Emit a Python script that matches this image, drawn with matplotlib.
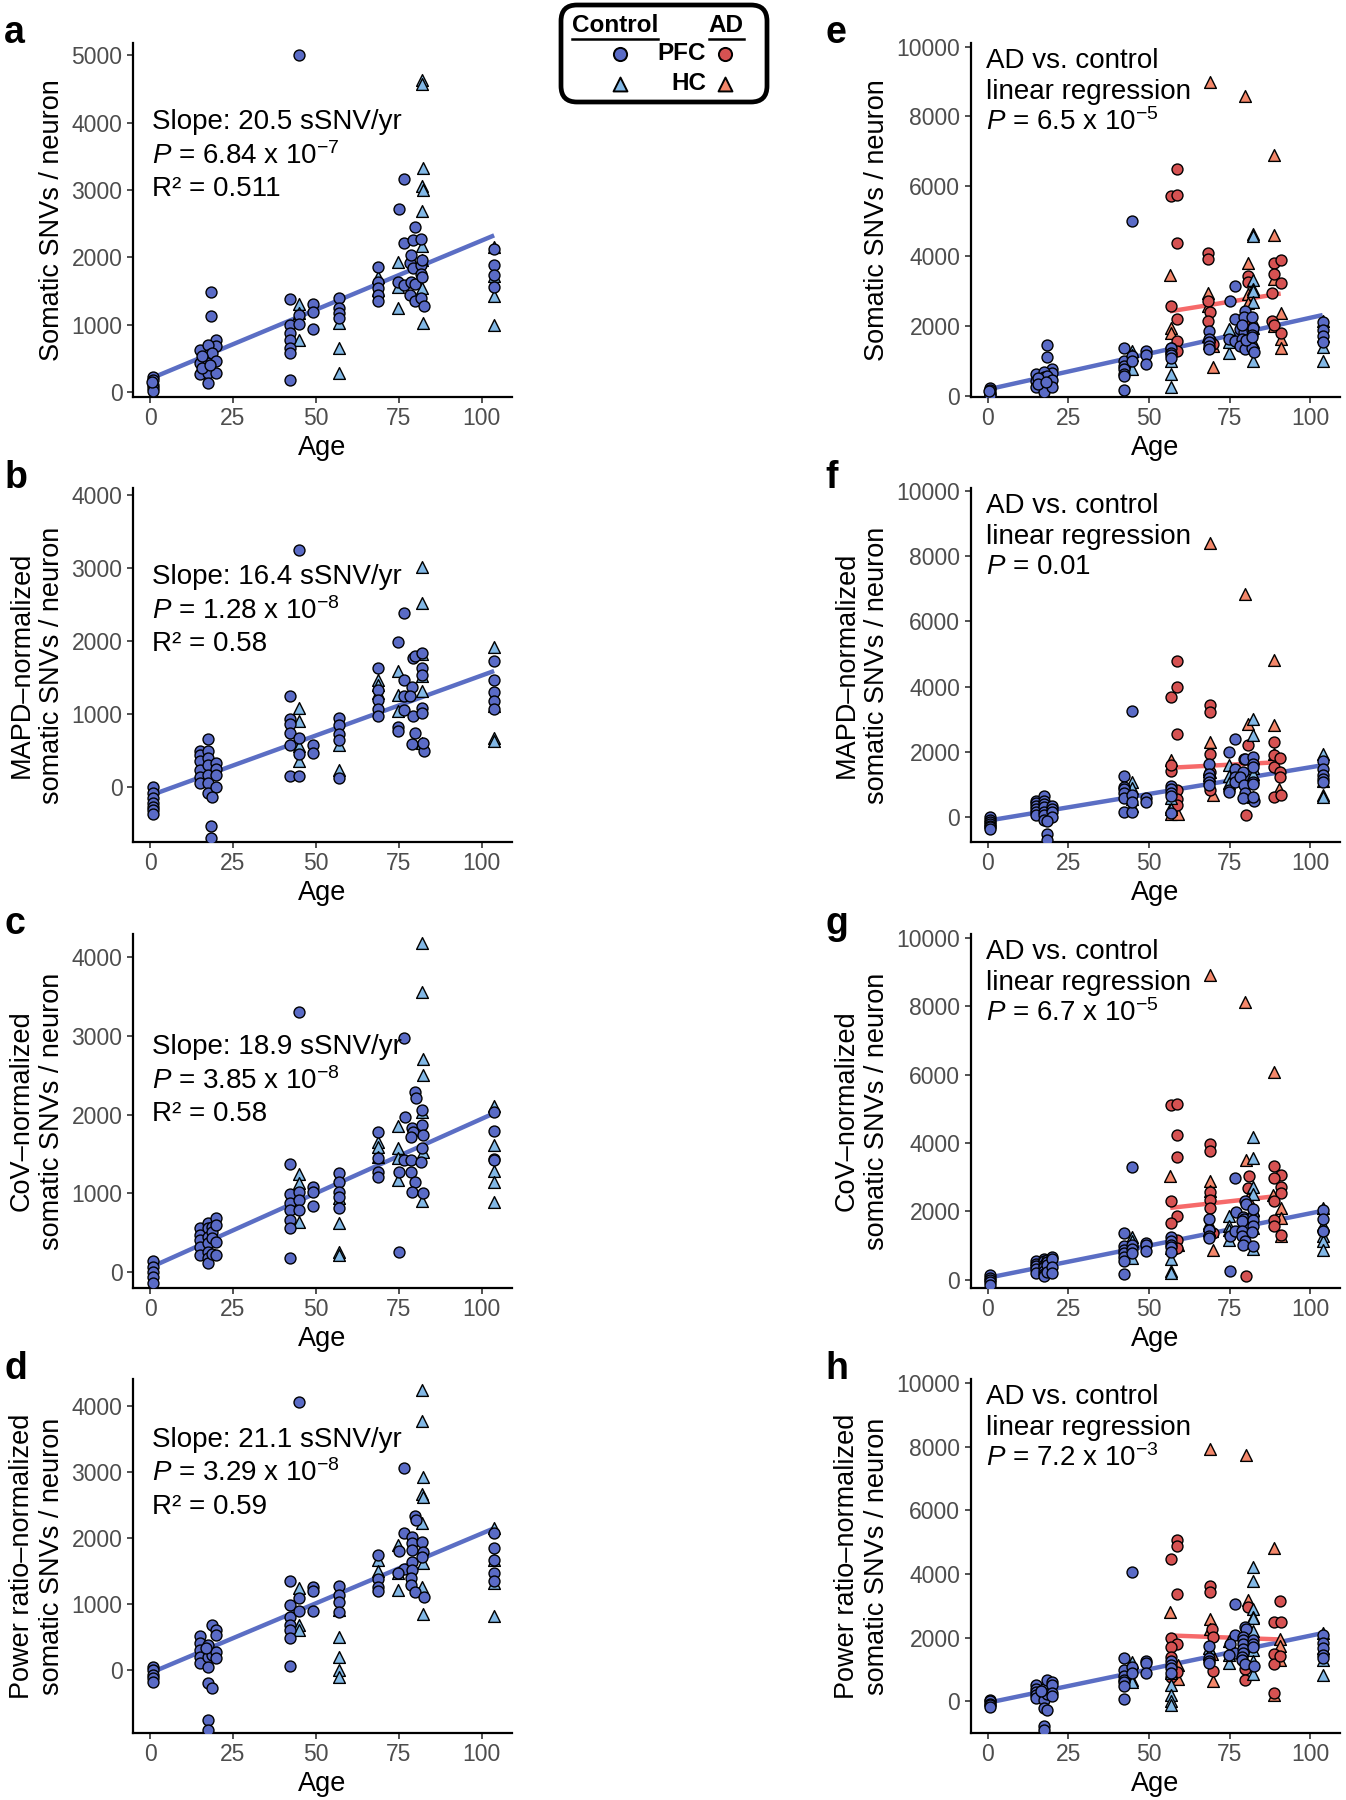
import numpy as np
import matplotlib.pyplot as plt
from matplotlib.patches import FancyBboxPatch

plt.rcParams["font.family"] = ["Liberation Sans", "DejaVu Sans"]
plt.rcParams["mathtext.fontset"] = "custom"
plt.rcParams["mathtext.rm"] = "Liberation Sans"
plt.rcParams["mathtext.it"] = "Liberation Sans:italic"

# ---- data: (age, sSNVs per neuron) ----
# raw somatic SNVs
ctrl_pfc_raw = [
    (0.7, 230), (0.7, 180), (0.7, 110), (0.7, 60), (0.7, 10), (0.5, 150),
    (18.3, 1482), (18.3, 1131), (20, 776), (20, 677), (15, 627), (15, 430), (15, 272),
    (17.5, 700), (17.5, 553), (17.5, 430), (17.5, 282), (17.5, 133), (18.5, 578),
    (20, 455), (20, 282), (15.5, 528), (15.5, 360), (18, 400),
    (42.2, 1383), (42.2, 998), (42.2, 874), (42.2, 776), (42.2, 652), (42.2, 578), (42.2, 173),
    (44.9, 1146), (44.9, 1013), (44.9, 5009), (49, 1309), (49, 1195), (49, 934),
    (56.9, 1393), (56.9, 1245), (56.9, 1171), (56.9, 1097),
    (68.7, 1862), (68.7, 1640), (68.7, 1541), (68.7, 1442), (68.7, 1344),
    (76.7, 3162), (75.2, 2712), (76.7, 2208), (74.9, 1640), (76.7, 1590),
    (79.8, 2445), (79.3, 2258), (81.8, 2272), (78.3, 1912), (79.3, 1838), (81.8, 1887),
    (82.1, 1961), (81.8, 1754), (78.8, 1640), (78.3, 1442), (79.8, 1344), (81.8, 1393),
    (82.5, 1270), (78.8, 2035), (80, 1600), (82, 1700),
    (103.8, 2119), (103.8, 1887), (103.8, 1739), (103.8, 1566),
]
ctrl_hc_raw = [
    (44.9, 1310), (44.9, 776), (44.9, 1180),
    (56.9, 1022), (56.9, 652), (56.9, 282),
    (68.7, 1714), (68.7, 1516),
    (74.9, 1927), (74.9, 1245), (74.9, 1566),
    (82.1, 4629), (82.1, 4570), (82.3, 3320), (82.1, 3060), (82.3, 3000), (82.1, 2690),
    (82.1, 2160), (82.1, 1960), (82.1, 1550), (82.3, 1020),
    (103.8, 2149), (103.8, 1724), (103.8, 1418), (103.8, 998),
]
ad_pfc_raw = [
    (58.8, 6512), (56.7, 5722), (58.8, 5770), (58.6, 4373), (56.7, 2586), (58.8, 2205),
    (58.8, 1587), (56.7, 1397), (56.7, 1255), (58.8, 1300),
    (68.3, 4107), (68.3, 3935), (68.3, 2728), (68.8, 2414), (68.3, 2158), (68.8, 1600), (69.8, 1500),
    (80.6, 3441), (80.6, 3270), (80.6, 2100), (81, 1900),
    (88.8, 3821), (90.8, 3888), (88.8, 3489), (90.8, 3251), (88.2, 2966), (88.2, 2158),
    (90.8, 1825), (88.8, 2050),
]
ad_hc_raw = [
    (68.8, 9000), (79.6, 8575), (88.8, 6911), (88.8, 4601), (80.6, 3821), (56.5, 3460),
    (56.7, 1968), (56.7, 1825), (68.3, 2966), (68.3, 2586), (68.3, 1730), (69.8, 1445),
    (69.8, 827), (80.6, 2918), (80.6, 2680), (90.8, 2395), (90.8, 1635), (90.8, 1397),
    (88.8, 3346), (79.6, 1900), (88.8, 2000),
]

# MAPD-normalized
ctrl_pfc_mapd = [
    (0.7, 9), (0.7, -82), (0.7, -151), (0.7, -219), (0.7, -265), (0.7, -311), (0.7, -370),
    (15, 489), (15, 443), (15, 352), (15, 238), (15, 146), (15, 55), (17.5, 658), (17.5, 489),
    (17.5, 398), (17.5, 306), (17.5, 169), (17.5, 55), (17.5, -82), (18.3, -530), (18.3, -690),
    (20, 329), (20, 247), (20, 169), (20, 9), (18.5, -137),
    (42.2, 1252), (42.2, 932), (42.2, 868), (42.2, 740), (42.2, 580), (42.2, 155),
    (44.9, 155), (44.9, 672), (44.9, 457), (44.9, 3250),
    (49, 580), (49, 466),
    (56.9, 946), (56.9, 855), (56.9, 731), (56.9, 649), (56.9, 123),
    (68.7, 1632), (68.7, 1335), (68.7, 1198), (68.7, 1070), (68.7, 969),
    (76.7, 2386), (74.9, 1984), (76.7, 1472), (74.9, 823), (74.9, 763), (76.7, 1243), (76.7, 1060),
    (79.3, 1769), (79.8, 1792), (82.1, 1838), (82.1, 1632), (82.1, 1540), (79.1, 1371),
    (78.3, 1243), (79.3, 969), (82.1, 1083), (82.1, 1015), (79.8, 740), (79.1, 594),
    (82.5, 489), (82.3, 603),
    (103.8, 1723), (103.8, 1472), (103.8, 1298), (103.8, 1175), (103.8, 1070),
]
ctrl_hc_mapd = [
    (44.9, 1083), (44.9, 900), (44.9, 558), (44.9, 352),
    (56.9, 580), (56.9, 238),
    (68.7, 1472), (68.7, 1403), (68.7, 1289),
    (74.9, 1586), (74.9, 1266), (74.9, 1038),
    (82.1, 3017), (82.1, 2514), (82.1, 1815), (82.1, 1518), (82.1, 1312), (82.1, 603),
    (103.8, 1920), (103.8, 1106), (103.8, 672), (103.8, 626),
]
ad_pfc_mapd = [
    (58.8, 4785), (58.8, 3988), (56.8, 3681), (58.8, 2556), (56.8, 1401), (56.8, 1585),
    (58.8, 818), (58.8, 562), (58.8, 358),
    (68.9, 3425), (68.9, 3221), (68.9, 1943), (68.9, 1380), (68.9, 818),
    (80.6, 2198), (80.1, 72),
    (88.8, 2301), (88.8, 1892), (88.8, 1534), (90.7, 1810), (90.7, 1380), (90.7, 1227),
    (88.8, 614), (90.9, 665),
]
ad_hc_mapd = [
    (68.9, 8415), (79.9, 6851), (88.8, 4826), (88.6, 2832), (56.8, 1738), (56.8, 102),
    (59.1, 102), (56.8, 307), (68.9, 2301), (68.9, 1380), (69.9, 665), (80.6, 2863),
    (88.8, 1943), (90.4, 869),
]

# CoV-normalized
ctrl_pfc_cov = [
    (0.7, 136), (0.7, 64), (0.7, 0), (0.7, -64), (0.7, -148),
    (15, 551), (15, 467), (15, 403), (15, 318), (15, 212), (17.5, 615), (17.5, 551),
    (17.5, 445), (17.5, 361), (17.5, 255), (17.5, 170), (17.5, 106), (18.5, 573), (18.5, 509),
    (18.5, 424), (18.5, 221), (20, 679), (20, 594), (20, 382), (20, 212),
    (42.2, 1366), (42.2, 984), (42.2, 870), (42.2, 785), (42.2, 658), (42.2, 551), (42.2, 170),
    (44.9, 3309), (44.9, 1010), (44.9, 912), (44.9, 785),
    (49, 1082), (49, 1018), (49, 840),
    (56.9, 1251), (56.9, 1137), (56.9, 1018), (56.9, 955), (56.9, 806),
    (68.7, 1782), (68.7, 1442), (68.7, 1273), (68.7, 1209),
    (76.7, 2969), (77, 1973), (75.2, 1273), (75.2, 246), (76.7, 1421),
    (79.8, 2291), (80.1, 2206), (79.1, 1824), (79.3, 1773), (78.8, 1718), (82.1, 1867),
    (82.3, 1739), (82.1, 1570), (78.8, 1421), (78.8, 1273), (79.8, 1145), (79.1, 1018),
    (82.3, 997), (81.8, 1400), (82.1, 2057),
    (103.8, 2028), (103.8, 1790), (103.8, 1434), (103.8, 1421),
]
ctrl_hc_cov = [
    (44.9, 1239), (44.9, 1124), (44.9, 636),
    (56.9, 933), (56.9, 615), (56.9, 255), (56.9, 212),
    (68.7, 1654), (68.7, 1591), (68.7, 1464),
    (74.9, 1854), (74.9, 1570), (74.9, 1442), (74.9, 1167),
    (82.1, 4178), (82.1, 3555), (82.3, 2706), (82.3, 2503), (82.1, 2036), (82.3, 1527), (82.1, 899),
    (103.8, 2113), (103.8, 1612), (103.8, 1281), (103.8, 1145), (103.8, 882),
]
ad_pfc_cov = [
    (56.8, 5122), (58.8, 5151), (58.8, 4244), (58.8, 3590), (56.8, 2312), (58.8, 1854),
    (56.8, 1659), (58.8, 1171), (58.8, 927),
    (68.9, 3971), (68.9, 3756), (68.9, 2556), (68.9, 2341), (68.9, 2097), (69.9, 1366),
    (80.9, 3024), (80.6, 2683), (80.1, 98),
    (88.6, 3317), (90.9, 3073), (88.6, 2976), (90.9, 2702), (90.9, 2537), (88.6, 2312),
    (88.6, 1756), (88.6, 1561), (90.9, 1317),
]
ad_hc_cov = [
    (68.9, 8927), (79.9, 8127), (88.8, 6068), (80.1, 3512), (56.6, 3044), (59.1, 1024),
    (68.9, 2878), (68.9, 2585), (69.9, 878), (69.4, 1415), (80.6, 2390), (88.3, 2488),
    (90.9, 2097), (90.9, 1805), (90.9, 1268),
]

# power ratio-normalized
ctrl_pfc_pow = [
    (0.7, 50), (0.7, 0), (0.7, -76), (0.7, -126), (0.7, -177),
    (15, 514), (15, 404), (15, 303), (15, 202), (15, 101), (17.5, 378), (17.5, 202),
    (17.5, 40), (17.5, -202), (17.5, -757), (17.5, -908), (18.5, 681), (18.5, -277),
    (18.5, 227), (20, 605), (20, 530), (20, 277), (20, 177), (16.7, 328),
    (42.2, 1352), (42.2, 984), (42.2, 807), (42.2, 681), (42.2, 605), (42.2, 479), (42.2, 66),
    (44.9, 4060), (44.9, 1084), (44.9, 898),
    (49, 1261), (49, 1200), (49, 898),
    (56.9, 1271), (56.9, 1135), (56.9, 1034), (56.9, 883),
    (68.7, 1740), (68.7, 1372), (68.7, 1261), (68.7, 1200),
    (76.7, 3052), (76.7, 2078), (75.2, 1806), (76.7, 1523), (74.9, 1463),
    (79.8, 2330), (80.1, 2270), (79.1, 2018), (79.1, 1917), (79.1, 1816), (82.1, 1942),
    (82.3, 1791), (79.1, 1639), (79.1, 1513), (78.8, 1387), (78.8, 1286), (79.8, 1185),
    (82.5, 1110), (82.1, 1715),
    (103.8, 2078), (103.8, 1841), (103.8, 1665), (103.8, 1473), (103.8, 1352),
]
ctrl_hc_pow = [
    (44.9, 1236), (44.9, 681), (44.9, 605),
    (56.9, 908), (56.9, 504), (56.9, 202), (56.9, 0), (56.9, -101),
    (68.7, 1665), (68.7, 1503),
    (74.9, 1892), (74.9, 1211), (74.9, 1463),
    (82.1, 4237), (82.1, 3773), (82.3, 2915), (82.1, 2663), (82.3, 2623), (82.1, 2219),
    (82.3, 1624), (82.1, 1261), (82.3, 847),
    (103.8, 2144), (103.8, 1665), (103.8, 1311), (103.8, 817),
]
ad_pfc_pow = [
    (58.8, 5073), (58.8, 4895), (56.8, 4477), (58.8, 3358), (56.8, 1987), (58.8, 1810),
    (56.8, 1705), (56.8, 1391), (58.8, 920), (56.8, 764),
    (68.9, 3609), (68.9, 3431), (69.4, 2280), (69.9, 2019), (69.9, 952),
    (80.6, 2960), (79.9, 1025), (79.9, 680),
    (88.6, 2489), (90.9, 2489), (90.7, 3169), (88.6, 1496), (88.8, 1161), (90.7, 1412), (88.8, 261),
]
ad_hc_pow = [
    (68.9, 7929), (80.1, 7751), (88.8, 4822), (56.6, 2803), (80.6, 3190), (59.1, 1130),
    (59.1, 711), (68.9, 2594), (68.9, 2280), (69.9, 638), (69.4, 1496), (88.8, 188),
    (90.7, 1967), (90.7, 1726), (90.7, 1287),
]

# regression fits (intercept, slope)
ctrl_intercepts = [197, -113, 55, -45]
ctrl_slopes = [20.5, 16.4, 18.9, 21.1]
ad_intercepts = [1595, 1225, 1509, 2279]
ad_slopes = [14.8, 5.07, 10.5, -3.67]

ylabels = [
    "Somatic SNVs / neuron",
    "MAPD\u2013normalized\nsomatic SNVs / neuron",
    "CoV\u2013normalized\nsomatic SNVs / neuron",
    "Power ratio\u2013normalized\nsomatic SNVs / neuron",
]
slope_txt = ["20.5", "16.4", "18.9", "21.1"]
p_txt = ["6.84 x 10$^{-7}$", "1.28 x 10$^{-8}$", "3.85 x 10$^{-8}$", "3.29 x 10$^{-8}$"]
r2_txt = ["0.511", "0.58", "0.58", "0.59"]
ad_p_txt = ["6.5 x 10$^{-5}$", "0.01", "6.7 x 10$^{-5}$", "7.2 x 10$^{-3}$"]
left_letters = ["a", "b", "c", "d"]
right_letters = ["e", "f", "g", "h"]

ctrl_pfc = [ctrl_pfc_raw, ctrl_pfc_mapd, ctrl_pfc_cov, ctrl_pfc_pow]
ctrl_hc = [ctrl_hc_raw, ctrl_hc_mapd, ctrl_hc_cov, ctrl_hc_pow]
ad_pfc = [ad_pfc_raw, ad_pfc_mapd, ad_pfc_cov, ad_pfc_pow]
ad_hc = [ad_hc_raw, ad_hc_mapd, ad_hc_cov, ad_hc_pow]

# ---- styling ----
C_PFC = "#5A6BC6"
C_HC = "#82B8E6"
A_PFC = "#D65252"
A_HC = "#F4876A"
LINE_BLUE = "#5B6EC4"
LINE_RED = "#F66A6A"
TICK_GREY = "#4D4D4D"

left_ylims = [(-75, 5180), (-750, 4092), (-207, 4296), (-953, 4404)]
right_ylims = [(-20, 10100), (-767, 10092), (-243, 10117), (-993, 10126)]
left_yticks = [np.arange(0, 5001, 1000)] + [np.arange(0, 4001, 1000)] * 3
text_y0 = [0.777, 0.748, 0.681, 0.828]
row_bottom = [0.7794, 0.5322, 0.2844, 0.0372]
ROW_H = 0.1967

fig = plt.figure(figsize=(13.46, 18), dpi=100)


def style_axes(ax, ylim, yticks):
    ax.set_xlim(-5.2, 109.2)
    ax.set_ylim(*ylim)
    ax.set_xticks([0, 25, 50, 75, 100])
    ax.set_yticks(yticks)
    for s in ["top", "right"]:
        ax.spines[s].set_visible(False)
    for s in ["left", "bottom"]:
        ax.spines[s].set_linewidth(1.6)
    ax.tick_params(labelsize=16.5, labelcolor=TICK_GREY, width=1.2, length=4, color="#333333")
    ax.set_xlabel("Age", fontsize=19.5, labelpad=3)


def scatter_group(ax, pts, color, marker, size):
    arr = np.array(pts, dtype=float)
    ax.scatter(arr[:, 0], arr[:, 1], s=size, c=color, marker=marker,
               edgecolors="black", linewidths=1.0, zorder=3)


def fit_line(ax, pts_list, b0, b1, color):
    ages = np.concatenate([np.array(p, dtype=float)[:, 0] for p in pts_list])
    xs = np.linspace(ages.min(), ages.max(), 50)
    ax.plot(xs, b0 + b1 * xs, color=color, lw=3.2, zorder=2, solid_capstyle="butt")


for i in range(4):
    # left column: controls only
    ax = fig.add_axes([0.0988, row_bottom[i], 0.2816, ROW_H])
    style_axes(ax, left_ylims[i], left_yticks[i])
    fit_line(ax, [ctrl_pfc[i], ctrl_hc[i]], ctrl_intercepts[i], ctrl_slopes[i], LINE_BLUE)
    scatter_group(ax, ctrl_hc[i], C_HC, "^", 72)
    scatter_group(ax, ctrl_pfc[i], C_PFC, "o", 62)
    ax.set_ylabel(ylabels[i], fontsize=19.5, labelpad=5)
    ax.text(0.05, text_y0[i], "Slope: %s sSNV/yr" % slope_txt[i], transform=ax.transAxes,
            fontsize=20, va="center")
    ax.text(0.05, text_y0[i] - 0.095, "$P$ = " + p_txt[i], transform=ax.transAxes,
            fontsize=20, va="center")
    ax.text(0.05, text_y0[i] - 0.19, "R\u00b2 = " + r2_txt[i], transform=ax.transAxes,
            fontsize=20, va="center")

    # right column: AD vs control
    ax = fig.add_axes([0.7212, row_bottom[i], 0.2744, ROW_H])
    style_axes(ax, right_ylims[i], np.arange(0, 10001, 2000))
    fit_line(ax, [ctrl_pfc[i], ctrl_hc[i]], ctrl_intercepts[i], ctrl_slopes[i], LINE_BLUE)
    fit_line(ax, [ad_pfc[i], ad_hc[i]], ad_intercepts[i], ad_slopes[i], LINE_RED)
    scatter_group(ax, ad_hc[i], A_HC, "^", 72)
    scatter_group(ax, ad_pfc[i], A_PFC, "o", 62)
    scatter_group(ax, ctrl_hc[i], C_HC, "^", 72)
    scatter_group(ax, ctrl_pfc[i], C_PFC, "o", 62)
    ax.set_ylabel(ylabels[i], fontsize=19.5, labelpad=5)
    ax.text(0.04, 0.948, "AD vs. control", transform=ax.transAxes, fontsize=20, va="center")
    ax.text(0.04, 0.862, "linear regression", transform=ax.transAxes, fontsize=20, va="center")
    ax.text(0.04, 0.776, "$P$ = " + ad_p_txt[i], transform=ax.transAxes, fontsize=20,
            va="center")

    # panel letters
    ytop = row_bottom[i] + ROW_H
    fig.text(0.003, ytop, left_letters[i], fontsize=27, fontweight="bold",
             va="baseline", ha="left")
    fig.text(0.613, ytop, right_letters[i], fontsize=27, fontweight="bold",
             va="baseline", ha="left")

# ---- legend box ----
lax = fig.add_axes([558 / 1346, 1 - 105 / 1800, 212 / 1346, 103 / 1800])
lax.set_xlim(0, 212)
lax.set_ylim(0, 103)
lax.axis("off")
box = FancyBboxPatch((3, 3), 206, 97, boxstyle="round,pad=0,rounding_size=16",
                     fc="white", ec="black", lw=3.4, clip_on=False)
lax.add_patch(box)
lax.text(57, 80, "Control", fontsize=17.5, fontweight="bold", ha="center", va="center")
lax.plot([14, 100], [66, 66], color="black", lw=1.8)
lax.text(168, 80, "AD", fontsize=17.5, fontweight="bold", ha="center", va="center")
lax.plot([151, 186], [66, 66], color="black", lw=1.8)
lax.text(148, 51, "PFC", fontsize=17.5, fontweight="bold", ha="right", va="center")
lax.text(148, 22, "HC", fontsize=17.5, fontweight="bold", ha="right", va="center")
lax.scatter([62], [51], s=90, c=C_PFC, marker="o", edgecolors="black", linewidths=1.4)
lax.scatter([62], [21], s=100, c=C_HC, marker="^", edgecolors="black", linewidths=1.4)
lax.scatter([167], [51], s=90, c=A_PFC, marker="o", edgecolors="black", linewidths=1.4)
lax.scatter([167], [21], s=100, c=A_HC, marker="^", edgecolors="black", linewidths=1.4)

fig.savefig("out.png", dpi=100)
